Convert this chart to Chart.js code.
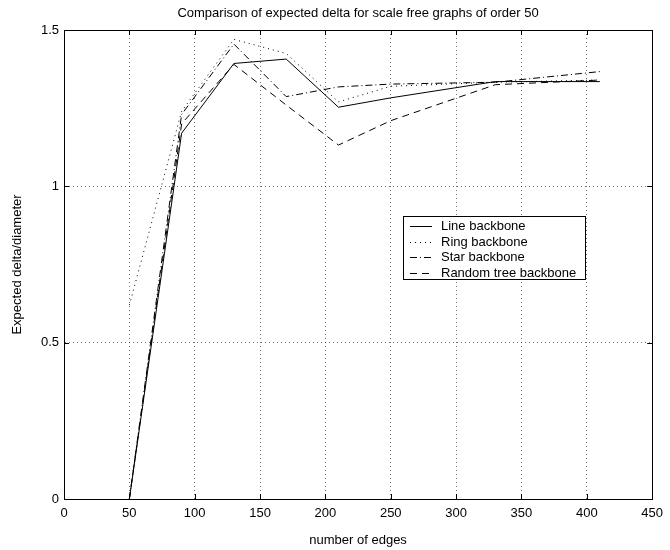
<!DOCTYPE html>
<html>
<head>
<meta charset="utf-8">
<script src="https://cdn.jsdelivr.net/npm/chart.js@4.4.1/dist/chart.umd.min.js"></script>
<style>
  html, body { margin: 0; padding: 0; background: #fff; }
  canvas { display: block; }
</style>
</head>
<body>
<canvas id="graph" width="670" height="550"></canvas>
<script>
// number of edges
const edges = [50, 90, 130, 170, 210, 250, 330, 410];

// expected delta / diameter per backbone
const lineBackbone   = [0, 1.17, 1.393, 1.407, 1.253, 1.283, 1.335, 1.335];
const ringBackbone   = [0.62, 1.24, 1.47, 1.425, 1.27, 1.32, 1.333, 1.34];
const starBackbone   = [0, 1.23, 1.455, 1.287, 1.318, 1.327, 1.333, 1.367];
const randomBackbone = [0, 1.2, 1.39, 1.26, 1.132, 1.21, 1.325, 1.34];

const xTicks = [0, 50, 100, 150, 200, 250, 300, 350, 400, 450];
const yTicks = [0, 0.5, 1, 1.5];

const FONT = 'Liberation Sans, Arial, Helvetica, sans-serif';

const toPoints = ys => edges.map((x, i) => ({ x: x, y: ys[i] }));

function series(label, ys, dash) {
  return {
    label: label,
    data: toPoints(ys),
    showLine: true,
    borderColor: '#000',
    backgroundColor: '#000',
    borderWidth: 1,
    borderDash: dash,
    pointRadius: 0,
    tension: 0
  };
}

// box round the plot, inward ticks and the legend
const frame = {
  id: 'frame',
  afterDraw(chart) {
    const ctx = chart.ctx;
    const a = chart.chartArea;
    const xs = chart.scales.x, ys = chart.scales.y;
    ctx.save();
    ctx.strokeStyle = '#000';
    ctx.lineWidth = 1;
    ctx.setLineDash([]);
    ctx.strokeRect(Math.round(a.left) + 0.5, Math.round(a.top) + 0.5,
      Math.round(a.right - a.left), Math.round(a.bottom - a.top));
    ctx.beginPath();
    xTicks.forEach(v => {
      const px = Math.round(xs.getPixelForValue(v)) + 0.5;
      ctx.moveTo(px, a.bottom); ctx.lineTo(px, a.bottom - 5);
      ctx.moveTo(px, a.top); ctx.lineTo(px, a.top + 5);
    });
    yTicks.forEach(v => {
      const py = Math.round(ys.getPixelForValue(v)) + 0.5;
      ctx.moveTo(a.left, py); ctx.lineTo(a.left + 5, py);
      ctx.moveTo(a.right, py); ctx.lineTo(a.right - 5, py);
    });
    ctx.stroke();

    // legend
    const lx = 403, ly = 216, lw = 182, lh = 63;
    ctx.fillStyle = '#fff';
    ctx.fillRect(lx, ly, lw, lh);
    ctx.strokeRect(lx + 0.5, ly + 0.5, lw, lh);
    ctx.font = '13px ' + FONT;
    ctx.textBaseline = 'middle';
    chart.data.datasets.forEach((ds, i) => {
      const y = Math.round(ly + 10 + i * 15.5) + 0.5;
      ctx.setLineDash(ds.borderDash);
      ctx.beginPath();
      ctx.moveTo(lx + 7, y);
      ctx.lineTo(lx + 29, y);
      ctx.stroke();
      ctx.setLineDash([]);
      ctx.fillStyle = '#000';
      ctx.fillText(ds.label, lx + 38, y);
    });
    ctx.restore();
  }
};

const ctx = document.getElementById('graph').getContext('2d');
new Chart(ctx, {
  type: 'scatter',
  data: {
    datasets: [
      series('Line backbone', lineBackbone, []),
      series('Ring backbone', ringBackbone, [1, 4]),
      series('Star backbone', starBackbone, [7, 3, 1, 3]),
      series('Random tree backbone', randomBackbone, [7, 5])
    ]
  },
  options: {
    responsive: false,
    animation: false,
    layout: { padding: { left: 0, right: 10, top: 0, bottom: 0 } },
    plugins: {
      legend: { display: false },
      tooltip: { enabled: false },
      title: {
        display: true,
        fullSize: false,
        text: 'Comparison of expected delta for scale free graphs of order 50',
        color: '#000',
        font: { family: FONT, size: 13, weight: 'normal' },
        padding: { top: 6, bottom: 8.4 }
      }
    },
    scales: {
      x: {
        type: 'linear',
        min: 0,
        max: 450,
        afterFit: s => { s.height = 51; },
        afterBuildTicks: s => { s.ticks = xTicks.map(v => ({ value: v })); },
        ticks: { color: '#000', padding: 7, font: { family: FONT, size: 13 }, callback: v => String(v) },
        grid: { color: 'rgba(0,0,0,0.55)', drawTicks: false },
        border: { display: true, color: '#000', width: 1, dash: [1, 3] },
        title: {
          display: true,
          text: 'number of edges',
          color: '#000',
          font: { family: FONT, size: 13 },
          padding: { top: 0, bottom: 2 }
        }
      },
      y: {
        type: 'linear',
        min: 0,
        max: 1.5,
        afterFit: s => { s.width = 64; },
        afterBuildTicks: s => { s.ticks = yTicks.map(v => ({ value: v })); },
        ticks: { color: '#000', padding: 5, font: { family: FONT, size: 13 }, callback: v => String(v) },
        grid: { color: 'rgba(0,0,0,0.55)', drawTicks: false },
        border: { display: true, color: '#000', width: 1, dash: [1, 3] },
        title: {
          display: true,
          text: 'Expected delta/diameter',
          color: '#000',
          font: { family: FONT, size: 13 },
          padding: { top: 10, bottom: 0 }
        }
      }
    }
  },
  plugins: [frame]
});
</script>
</body>
</html>
